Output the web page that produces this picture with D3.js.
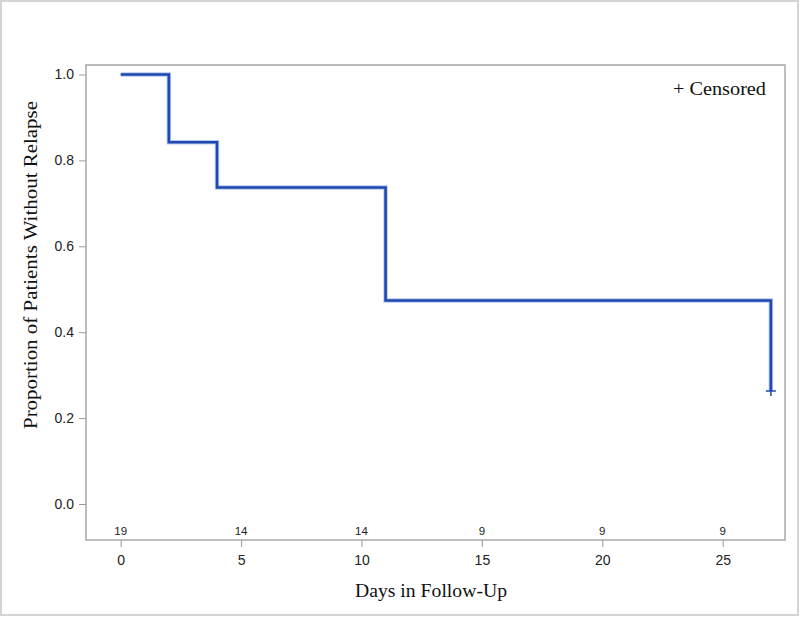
<!DOCTYPE html>
<html>
<head>
<meta charset="utf-8">
<script src="https://cdn.jsdelivr.net/npm/d3@7"></script>
<style>
  body { margin: 0; background: #fff; }
  svg { display: block; }
  .tick text { font-family: "Liberation Sans", Arial, sans-serif; font-size: 14px; fill: #222; }
  .title { font-family: "Liberation Serif", "DejaVu Serif", serif; font-size: 19px; fill: #111; }
  .risk { font-family: "Liberation Sans", Arial, sans-serif; font-size: 11.5px; fill: #222; }
</style>
</head>
<body>
<svg width="800" height="617"></svg>
<script>
// survival step data (day, proportion)
var stepDays = [0, 2, 4, 11, 27];
var stepSurv = [1.0, 16 / 19, 14 / 19, 9 / 19, 5 / 19];
var censorDays = [27];
var censorSurv = [5 / 19];
var xTicks = [0, 5, 10, 15, 20, 25];
var yTicks = [0.0, 0.2, 0.4, 0.6, 0.8, 1.0];
var atRisk = [19, 14, 14, 9, 9, 9];

var svg = d3.select("svg");

// outer border
svg.append("rect")
    .attr("x", 1).attr("y", 1).attr("width", 797).attr("height", 614)
    .attr("fill", "none").attr("stroke", "#d4d4d4").attr("stroke-width", 2);

var frame = { left: 86, top: 65, right: 785, bottom: 540 };

var x = d3.scaleLinear().domain([0, 25]).range([120.7, 722.7]);
var y = d3.scaleLinear().domain([0, 1]).range([504, 74.5]);

// axes
var xAxis = d3.axisBottom(x).tickValues(xTicks).tickSize(7).tickPadding(8)
    .tickFormat(d3.format("d")).tickSizeOuter(0);
var gx = svg.append("g").attr("transform", "translate(0," + frame.bottom + ")").call(xAxis);
gx.select(".domain").remove();
gx.selectAll(".tick line").attr("stroke", "#999");

var yAxis = d3.axisLeft(y).tickValues(yTicks).tickSize(7).tickPadding(5)
    .tickFormat(d3.format(".1f"));
var gy = svg.append("g").attr("transform", "translate(" + frame.left + ",0)").call(yAxis);
gy.select(".domain").remove();
gy.selectAll(".tick line").attr("stroke", "#999");

// plot frame
svg.append("rect")
    .attr("x", frame.left).attr("y", frame.top)
    .attr("width", frame.right - frame.left).attr("height", frame.bottom - frame.top)
    .attr("fill", "none").attr("stroke", "#a8a8a8").attr("stroke-width", 1.5);

// number at risk
svg.selectAll(".risk").data(atRisk).enter().append("text")
    .attr("class", "risk")
    .attr("x", function(d, i) { return x(xTicks[i]); })
    .attr("y", 535)
    .attr("text-anchor", "middle")
    .text(function(d) { return d; });

// step curve
var pts = [];
stepDays.forEach(function(d, i) {
  if (i > 0) pts.push([d, stepSurv[i - 1]]);
  pts.push([d, stepSurv[i]]);
});
var line = d3.line().x(function(d) { return x(d[0]); }).y(function(d) { return y(d[1]); });

svg.append("path")
    .attr("d", line(pts))
    .attr("fill", "none").attr("stroke", "#b8c8ec").attr("stroke-width", 4.5)
    .attr("stroke-linejoin", "miter");
svg.append("path")
    .attr("d", line(pts))
    .attr("fill", "none").attr("stroke", "#1f48b0").attr("stroke-width", 2.6)
    .attr("stroke-linejoin", "miter");

// censor marks
censorDays.forEach(function(d, i) {
  var cx = x(d), cy = y(censorSurv[i]);
  svg.append("path")
      .attr("d", "M" + (cx - 5) + "," + cy + "H" + (cx + 5) + "M" + cx + "," + (cy - 5) + "V" + (cy + 5))
      .attr("stroke", "#1f48b0").attr("stroke-width", 1.5);
});

// legend
svg.append("text").attr("class", "title")
    .attr("x", 766).attr("y", 95).attr("text-anchor", "end")
    .attr("textLength", 93).attr("lengthAdjust", "spacingAndGlyphs")
    .text("+ Censored");

// axis titles
svg.append("text").attr("class", "title")
    .attr("x", 431).attr("y", 597).attr("text-anchor", "middle")
    .attr("textLength", 152).attr("lengthAdjust", "spacingAndGlyphs")
    .text("Days in Follow-Up");

svg.append("text").attr("class", "title")
    .attr("transform", "translate(37,265) rotate(-90)")
    .attr("text-anchor", "middle")
    .attr("textLength", 328).attr("lengthAdjust", "spacingAndGlyphs")
    .text("Proportion of Patients Without Relapse");
</script>
</body>
</html>
